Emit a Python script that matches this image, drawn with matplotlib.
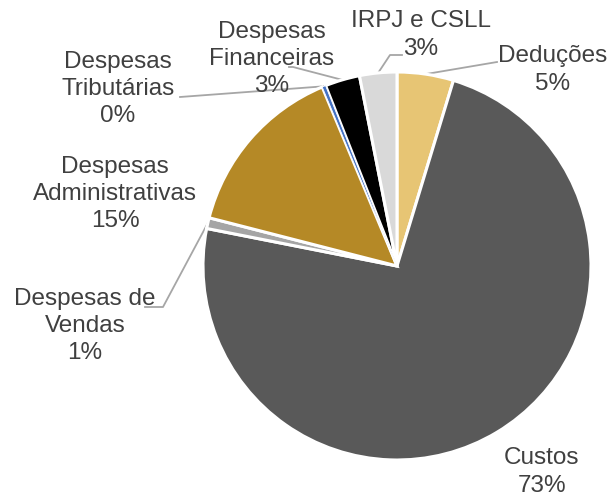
import matplotlib
matplotlib.use("Agg")
import matplotlib.pyplot as plt
import numpy as np

categories = ["Deduções", "Custos", "Despesas de\nVendas", "Despesas\nAdministrativas",
              "Despesas\nTributárias", "Despesas\nFinanceiras", "IRPJ e CSLL"]
values = [4.7, 73.4, 0.9, 14.7, 0.3, 2.9, 3.1]
colors = ["#E7C574", "#595959", "#A5A5A5", "#B58926", "#4472C4", "#000000", "#D9D9D9"]

W, H = 612, 495
CX, CY, R = 397, 266, 194

plt.rcParams['font.family'] = ['Liberation Sans', 'DejaVu Sans']
fig = plt.figure(figsize=(W / 100, H / 100), dpi=100)
ax = fig.add_axes([(CX - R) / W, (H - CY - R) / H, 2 * R / W, 2 * R / H])
ax.set_xlim(-1, 1)
ax.set_ylim(-1, 1)
ax.set_aspect('equal')
ax.axis('off')

wedges, _ = ax.pie(values, colors=colors, startangle=90, counterclock=False, radius=1,
                   wedgeprops=dict(edgecolor='white', linewidth=2.2), frame=False)
# keep the tiny slice visible above its neighbours' white borders
wedges[4].set_zorder(5)
wedges[4].set_linewidth(0.6)
ax.set_xlim(-1, 1)
ax.set_ylim(-1, 1)


def px(x, y):
    return ((x - CX) / R, (CY - y) / R)


# label block centres (pixels) and leader polylines (pixel waypoints after wedge point)
label_pos = [(553, 70), (542, 472), (85, 326), (115, 194), (118, 89), (272, 59), (421, 35)]
leaders = [[(497, 62)], None, [(163, 307), (145, 307)], None, [(180, 97)],
           [(293, 67), (289, 67)], [(390, 55), (402, 55)]]

total = sum(values)
for i, (cat, v) in enumerate(zip(categories, values)):
    pct = f"{v / total * 100:.0f}%"
    x, y = px(*label_pos[i])
    ax.text(x, y, f"{cat}\n{pct}", ha='center', va='center', fontsize=17.5,
            color='#404040', linespacing=1.3, clip_on=False)
    if leaders[i] is not None:
        w = wedges[i]
        mid = np.deg2rad((w.theta1 + w.theta2) / 2)
        pts = [(np.cos(mid) * 1.0, np.sin(mid) * 1.0)] + [px(*p) for p in leaders[i]]
        xs, ys = zip(*pts)
        ax.plot(xs, ys, color='#A6A6A6', lw=1.3, clip_on=False, zorder=0.5)

fig.savefig("out.png", dpi=100)
